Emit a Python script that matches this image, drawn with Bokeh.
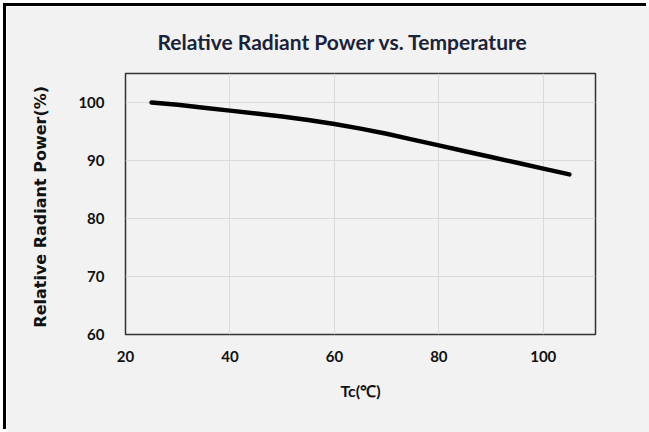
from bokeh.plotting import figure
from bokeh.models import Range1d, FixedTicker
from bokeh.embed import file_html
from bokeh.resources import INLINE

temps = [25, 30, 35, 40, 45, 50, 55, 60, 65, 70, 75, 80, 85, 90, 95, 100, 105]
power = [100.0, 99.6, 99.1, 98.6, 98.1, 97.6, 97.0, 96.3, 95.5, 94.6, 93.6,
         92.6, 91.6, 90.6, 89.6, 88.6, 87.6]
x_ticks = [20, 40, 60, 80, 100]
y_ticks = [60, 70, 80, 90, 100]
title_text = "Relative Radiant Power  vs. Temperature"
x_label = "Tc(\u2103)"
y_label = "Relative  Radiant Power(%)"

BG = "#f2f2f2"
p = figure(width=643, height=426, output_backend="svg", toolbar_location=None,
           x_range=Range1d(20, 110), y_range=Range1d(60, 105),
           min_border_left=119, min_border_right=54, min_border_top=66, min_border_bottom=98)
p.background_fill_color = BG
p.border_fill_color = BG
p.outline_line_color = "#333333"
p.outline_line_width = 1.5
p.styles = {"margin-left": "6px", "margin-top": "6px",
            "box-shadow": "-3px -3px 0px 0px #000000"}

p.title.text = title_text
p.title.align = "left"
p.title.offset = 32
p.title.standoff = 40
p.title.text_font = "Lato"
p.title.text_font_style = "bold"
p.title.text_font_size = "21px"
p.title.text_color = "#1c2238"

for ax, ticks in ((p.xaxis[0], x_ticks), (p.yaxis[0], y_ticks)):
    ax.ticker = FixedTicker(ticks=ticks)
    ax.major_tick_line_color = None
    ax.minor_tick_line_color = None
    ax.major_tick_out = 0
    ax.major_tick_in = 0
    ax.minor_tick_out = 0
    ax.axis_line_color = None
    ax.major_label_text_font = "Lato"
    ax.major_label_text_font_style = "bold"
    ax.major_label_text_font_size = "15px"
    ax.major_label_text_color = "#111111"
    ax.axis_label_text_font_style = "bold"
    ax.axis_label_text_color = "#111111"

p.xaxis.major_label_standoff = 16
p.yaxis.major_label_standoff = 21
p.xaxis.axis_label = x_label
p.xaxis.axis_label_text_font = "Lato"
p.xaxis.axis_label_text_font_size = "16px"
p.xaxis.axis_label_standoff = 16
p.yaxis.axis_label = y_label
p.yaxis.axis_label_text_font = "DejaVu Sans"
p.yaxis.axis_label_text_font_size = "16px"
p.yaxis.axis_label_standoff = 25

p.xgrid.grid_line_color = "#d9d9d9"
p.ygrid.grid_line_color = "#d9d9d9"
p.xgrid.ticker = FixedTicker(ticks=x_ticks)
p.ygrid.ticker = FixedTicker(ticks=y_ticks)

p.line(temps, power, line_color="#000000", line_width=4.5, line_cap="round", line_join="round")

open("out.html", "w").write(file_html(p, INLINE))
